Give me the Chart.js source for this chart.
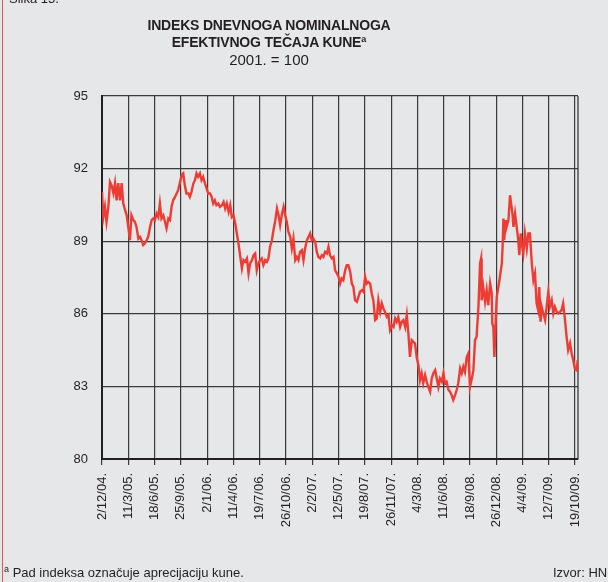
<!DOCTYPE html>
<html>
<head>
<meta charset="utf-8">
<script src="https://cdn.jsdelivr.net/npm/chart.js@4.4.0/dist/chart.umd.min.js"></script>
<style>
  html, body { margin: 0; padding: 0; background: #e6e7e9; }
  #wrap { position: relative; width: 608px; height: 582px; overflow: hidden; font-family: "Liberation Sans", Arial, sans-serif; color: #231f20; }
  #wrap canvas { position: absolute; left: 0; top: 0; }
  .txt { position: absolute; white-space: nowrap; }
  .ttl { left: 0; width: 538px; text-align: center; font-weight: bold; font-size: 14px; letter-spacing: -0.2px; line-height: 16px; }
  .sup { font-size: 9px; vertical-align: 5px; line-height: 9px; letter-spacing: 0; }
  .note { font-size: 13px; line-height: 15px; }
  #edge { position: absolute; left: 2px; top: 0; width: 1px; height: 582px; background: #e8574f; }
</style>
</head>
<body>
<div id="wrap">
  <canvas id="chart" width="608" height="582"></canvas>
  <div id="edge"></div>
  <div class="txt note" style="left:9px; top:-9px;">Slika 15.</div>
  <div class="txt ttl" style="top:17px;">INDEKS DNEVNOGA NOMINALNOGA</div>
  <div class="txt ttl" style="top:34px;">EFEKTIVNOG TEČAJA KUNE<span class="sup">a</span></div>
  <div class="txt ttl" style="top:51px; font-weight:normal; font-size:15px; line-height:18px; letter-spacing:0;">2001. = 100</div>
  <div class="txt note" style="left:4px; top:565px;"><span class="sup">a</span> Pad indeksa označuje aprecijaciju kune.</div>
  <div class="txt note" style="left:553px; top:565px;">Izvor: HNB</div>
</div>
<script>
const tickLabels = ['2/12/04.', '11/3/05.', '18/6/05.', '25/9/05.', '2/1/06.', '11/4/06.', '19/7/06.',
  '26/10/06.', '2/2/07.', '12/5/07.', '19/8/07.', '26/11/07.', '4/3/08.', '11/6/08.', '18/9/08.',
  '26/12/08.', '4/4/09.', '12/7/09.', '19/10/09.'];
const tickStepDays = 99;   // labels are 99 days apart
const lastDay = 1793;

// days counted from 2/12/2004
const days = [
  0,5,11,17,24,30,36,43,49,55,61,68,74,80,87,93,99,105,111,118,124,130,137,143,149,155,162,168,174,181,
  187,193,199,206,212,218,224,231,237,243,250,256,262,268,275,281,287,294,300,306,312,318,325,331,337,344,
  350,356,362,369,375,381,388,394,400,407,413,419,425,431,438,444,
  452,458,464,470,477,483,489,495,502,508,514,521,527,533,539,546,552,558,565,571,577,583,589,596,602,608,
  615,621,627,633,640,646,652,659,665,671,678,684,690,696,702,709,715,721,728,734,740,746,753,759,765,772,
  778,784,790,796,803,809,815,822,828,834,840,847,853,859,
  866,872,878,885,891,897,903,909,916,922,928,935,941,947,953,960,966,972,979,985,991,997,1003,1010,1016,
  1022,1029,1035,1041,1048,1054,1060,1066,1073,1079,1085,1092,1098,1104,1110,1116,1123,1129,1135,1142,1148,
  1154,1160,1167,1173,1179,1186,1192,1198,1204,1210,1217,1223,1229,1236,1242,1248,1255,1261,1267,1273,1280,
  1286,1292,1298,1305,1311,
  1317,1323,1330,1336,1342,1349,1355,1361,1367,1374,1380,1386,1393,1399,1405,1411,1418,1424,1428,1430,1436,
  1443,1449,1455,1462,1468,1470,1474,1478,1483,1487,1493,1499,1506,1509,1512,1515,1521,1524,1531,1537,1541,
  1546,1550,1556,1562,1568,1572,1577,1581,1587,1593,1600,1606,1612,1619,1625,1631,1637,1643,1647,1652,1656,
  1662,1669,1675,1681,1687,1694,1700,1706,1713,1719,1725,1731,1737,1744,1750,1756,1763,1769,1775,1781,1788,1792
];
const values = [
  91.04,90.0,90.42,89.8,90.42,91.45,91.31,90.98,91.4,90.69,91.4,90.69,91.4,90.57,90.28,90.07,89.59,89.04,
  90.07,89.87,89.8,89.59,89.11,89.18,89.04,88.84,88.91,89.04,89.18,89.59,89.87,89.94,89.87,90.14,90.0,90.56,
  89.94,90.07,89.8,89.53,89.94,89.87,90.42,90.69,90.83,90.97,91.11,91.45,91.73,91.8,91.31,90.97,90.97,90.83,
  91.04,91.38,91.52,91.8,91.66,91.8,91.52,91.66,91.38,91.18,90.97,90.97,90.83,90.56,90.69,90.49,90.56,90.42,
  90.49,90.62,90.35,90.56,90.21,90.49,90.0,90.07,89.73,89.32,88.91,88.35,87.87,88.22,88.15,88.29,87.67,88.08,
  88.22,88.42,88.49,87.8,88.08,88.22,88.29,88.01,88.22,88.15,88.29,88.77,89.04,89.46,89.8,90.35,90.07,89.66,
  90.14,90.42,90.07,89.8,89.39,89.18,88.7,89.11,88.22,88.35,88.22,88.56,88.63,88.22,88.7,89.04,89.18,89.32,
  89.04,89.11,88.97,88.56,88.35,88.29,88.42,88.35,88.56,88.49,88.77,88.42,
  88.29,88.35,87.8,87.67,87.53,87.25,87.46,87.39,87.8,88.01,88.01,87.73,87.25,87.11,86.56,86.49,86.7,86.91,
  86.98,86.91,87.53,87.25,87.32,87.25,86.84,86.56,85.74,85.81,86.56,86.08,86.43,86.22,86.08,85.87,85.95,85.33,
  85.53,85.46,85.81,85.67,85.87,85.46,85.67,85.74,85.46,85.95,85.19,84.22,84.91,84.84,84.78,84.16,83.88,83.26,
  83.54,83.13,83.47,83.19,82.98,82.78,83.33,83.54,83.67,83.33,82.98,83.33,83.19,83.54,83.13,83.19,82.85,82.78,
  82.64,82.44,82.64,82.85,83.13,83.74,83.54,83.81,83.6,84.22,84.36,82.98,83.33,83.67,84.91,85.05,86.29,88.08,
  88.29,86.56,87.11,86.49,86.98,86.36,87.25,86.84,85.6,85.46,84.22,85.74,86.7,87.11,87.53,88.08,88.77,89.94,
  89.04,89.87,89.59,89.87,90.9,90.56,90.14,89.59,90.14,89.59,89.04,88.42,89.32,88.91,88.49,89.32,88.7,89.32,
  89.32,88.08,87.39,87.67,86.43,86.15,87.11,85.67,86.29,86.02,85.74,86.29,86.91,86.29,86.56,86.02,86.29,86.08,
  86.02,86.08,86.15,86.43,85.74,85.05,84.5,84.78,84.36,84.09,83.74,83.67,84.09
];
const yMin = 80, yMax = 95, yStep = 3;

Chart.defaults.font.family = '"Liberation Sans", Arial, sans-serif';
Chart.defaults.font.size = 13;
Chart.defaults.color = '#231f20';

// right edge of the plot box
const frame = {
  id: 'frame',
  beforeDatasetsDraw(chart) {
    const { ctx, chartArea: a } = chart;
    ctx.save();
    ctx.strokeStyle = '#3a3a3a';
    ctx.lineWidth = 1.3;
    ctx.beginPath();
    ctx.moveTo(a.right, a.top);
    ctx.lineTo(a.right, a.bottom);
    ctx.stroke();
    ctx.restore();
  }
};

new Chart(document.getElementById('chart'), {
  type: 'line',
  data: {
    datasets: [{
      data: days.map((d, i) => ({ x: d, y: values[i] })),
      borderColor: '#ee3b33',
      borderWidth: 2.4,
      pointRadius: 0,
      tension: 0,
      fill: false
    }]
  },
  options: {
    responsive: false,
    animation: false,
    layout: { padding: { top: 96, right: 30, left: 0, bottom: 0 } },
    plugins: { legend: { display: false }, tooltip: { enabled: false } },
    scales: {
      x: {
        type: 'linear',
        min: 0,
        max: lastDay,
        afterBuildTicks: (scale) => {
          scale.ticks = tickLabels.map((_, i) => ({ value: i * tickStepDays }));
        },
        afterFit: (scale) => { scale.height = 123; },
        ticks: {
          autoSkip: false,
          maxRotation: 90,
          minRotation: 90,
          padding: 8,
          font: { size: 13 },
          callback: (v) => tickLabels[Math.round(v / tickStepDays)]
        },
        grid: { color: '#3a3a3a', lineWidth: 1.2, drawTicks: true, tickLength: 6 },
        border: { color: '#231f20', width: 2 }
      },
      y: {
        min: yMin,
        max: yMax,
        afterFit: (scale) => { scale.width = 102; },
        ticks: { stepSize: yStep, padding: 14, font: { size: 13 } },
        grid: { color: '#3a3a3a', lineWidth: 1.3, drawTicks: false },
        border: { color: '#231f20', width: 2 }
      }
    }
  },
  plugins: [frame]
});
</script>
</body>
</html>
